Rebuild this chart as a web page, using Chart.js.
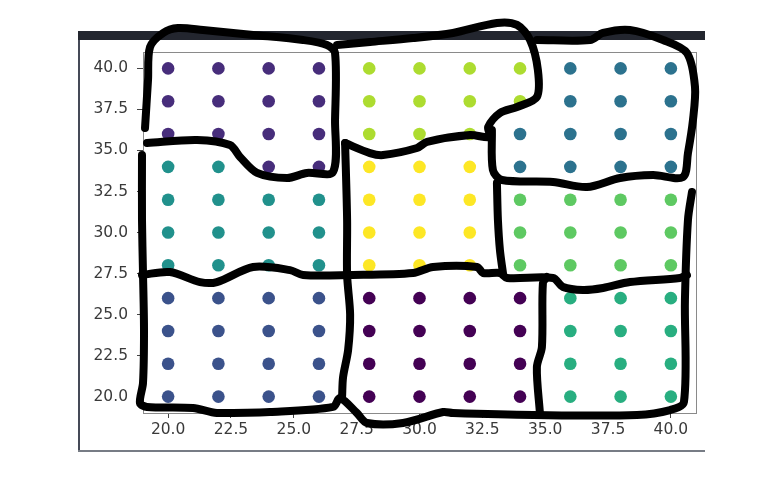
<!DOCTYPE html>
<html>
<head>
<meta charset="utf-8">
<script src="https://cdn.jsdelivr.net/npm/chart.js@4.4.0/dist/chart.umd.min.js"></script>
<style>
  html, body { margin: 0; padding: 0; background: #ffffff; }
  #wrap { position: relative; width: 778px; height: 502px; }
  canvas { display: block; }
</style>
</head>
<body>
<div id="wrap"><canvas id="c" width="778" height="502"></canvas></div>
<script>
// ---- tick labels ----
const xTickValues = [20.0, 22.5, 25.0, 27.5, 30.0, 32.5, 35.0, 37.5, 40.0];
const yTickValues = [20.0, 22.5, 25.0, 27.5, 30.0, 32.5, 35.0, 37.5, 40.0];

// ---- cluster colours (viridis, 9 labels) ----
const clusterColors = ['#440154', '#472d7b', '#3b528b', '#2c728e', '#21918c', '#28ae80', '#5ec962', '#addc30', '#fde725'];

// ---- points per cluster [x, y] ----
const cluster0 = [[28,20],[30,20],[32,20],[34,20],[28,22],[30,22],[32,22],[34,22],[28,24],[30,24],[32,24],[34,24],[28,26],[30,26],[32,26],[34,26]];
const cluster1 = [[24,34],[26,34],[20,36],[22,36],[24,36],[26,36],[20,38],[22,38],[24,38],[26,38],[20,40],[22,40],[24,40],[26,40]];
const cluster2 = [[20,20],[22,20],[24,20],[26,20],[20,22],[22,22],[24,22],[26,22],[20,24],[22,24],[24,24],[26,24],[20,26],[22,26],[24,26],[26,26]];
const cluster3 = [[34,34],[36,34],[38,34],[40,34],[34,36],[36,36],[38,36],[40,36],[36,38],[38,38],[40,38],[36,40],[38,40],[40,40]];
const cluster4 = [[20,28],[22,28],[24,28],[26,28],[20,30],[22,30],[24,30],[26,30],[20,32],[22,32],[24,32],[26,32],[20,34],[22,34]];
const cluster5 = [[36,20],[38,20],[40,20],[36,22],[38,22],[40,22],[36,24],[38,24],[40,24],[36,26],[38,26],[40,26]];
const cluster6 = [[34,28],[36,28],[38,28],[40,28],[34,30],[36,30],[38,30],[40,30],[34,32],[36,32],[38,32],[40,32]];
const cluster7 = [[28,36],[30,36],[32,36],[28,38],[30,38],[32,38],[34,38],[28,40],[30,40],[32,40],[34,40]];
const cluster8 = [[28,28],[30,28],[32,28],[28,30],[30,30],[32,30],[28,32],[30,32],[32,32],[28,34],[30,34],[32,34]];
const clusters = [cluster0, cluster1, cluster2, cluster3, cluster4, cluster5, cluster6, cluster7, cluster8];

// ---- hand-drawn outlines, in data units ----
const strokeTopLeft = [[19.08,36.37],[19.20,39.29],[19.28,41.30],[19.80,42.16],[20.39,42.46],[21.39,42.34],[23.38,42.04],[25.37,41.73],[26.32,41.43],[26.64,40.94],[26.64,36.86],[26.56,33.69],[25.52,33.63],[24.73,33.32],[23.54,33.63],[22.86,34.60],[22.46,35.33],[21.15,35.64],[19.16,35.45]];
const strokeOuter = [[18.96,34.72],[18.96,30.76],[19.00,27.53],[19.04,24.0],[19.00,20.83],[18.88,19.61],[19.16,19.37],[20.99,19.30],[21.94,19.00],[24.05,19.06],[26.56,19.37],[26.84,19.91],[27.51,19.00],[27.91,18.39],[29.34,18.39],[30.94,19.06],[31.33,19.00],[34.52,18.88],[38.65,18.88],[39.97,19.18],[40.52,19.67],[40.56,25.89],[40.68,30.76],[40.84,32.47]];
const strokeMidVertical = [[27.04,35.45],[27.12,30.76],[27.12,27.41],[27.24,25.0],[27.16,22.84],[26.96,21.19],[26.92,19.98]];
const strokeHorizontal = [[18.96,27.41],[20.07,27.59],[21.27,26.98],[21.94,26.98],[23.38,27.90],[24.85,27.71],[25.37,27.41],[27.24,27.41],[29.74,27.53],[30.54,27.90],[32.29,27.90],[32.53,27.53],[33.20,27.53],[33.48,27.23],[35.31,27.23],[35.71,26.68],[36.50,26.50],[37.30,26.62],[38.37,26.98],[40.36,27.23],[40.64,27.41]];
const strokeBottomDivider = [[35.07,27.29],[34.91,26.92],[34.87,23.02],[34.67,21.80],[34.79,19.0]];
const strokeTopMiddle = [[26.72,41.43],[28.03,41.61],[29.74,41.85],[31.33,42.16],[33.08,42.77],[33.88,42.65],[34.40,41.73],[34.71,39.90],[34.67,38.26],[33.88,37.65],[33.20,37.28],[32.73,36.43],[32.80,35.82],[32.01,35.94],[30.30,35.52],[29.90,35.15],[28.55,34.72],[28.03,34.84],[27.04,35.45]];
const strokeTopRight = [[32.88,36.25],[32.92,33.81],[33.28,33.20],[35.31,33.08],[36.66,32.77],[37.98,33.32],[39.29,33.50],[40.48,33.38],[40.68,34.84],[40.88,36.86],[40.96,38.87],[40.64,40.94],[39.69,41.73],[38.37,42.34],[37.30,42.16],[36.78,41.73],[34.67,41.73]];
const strokeMidDivider = [[33.08,33.02],[33.12,30.76],[33.20,28.93],[33.32,27.53]];
const strokes = [strokeTopLeft, strokeOuter, strokeMidVertical, strokeHorizontal, strokeBottomDivider, strokeTopMiddle, strokeTopRight, strokeMidDivider];

const toXY = arr => arr.map(p => ({ x: p[0], y: p[1] }));

const pointSets = clusters.map((pts, i) => ({
  type: 'scatter',
  data: toXY(pts),
  backgroundColor: clusterColors[i],
  borderColor: clusterColors[i],
  borderWidth: 0,
  pointRadius: 6.3,
  pointHoverRadius: 6.3,
  order: 2
}));

const strokeSets = strokes.map(s => ({
  type: 'scatter',
  data: toXY(s),
  showLine: true,
  borderColor: '#000000',
  borderWidth: 8,
  borderCapStyle: 'round',
  borderJoinStyle: 'round',
  tension: 0.3,
  pointRadius: 0,
  pointHoverRadius: 0,
  fill: false,
  clip: false,
  order: 1
}));

const framePlugin = {
  id: 'frame',
  beforeDraw(chart) {
    const ctx = chart.ctx;
    ctx.save();
    ctx.fillStyle = '#ffffff';
    ctx.fillRect(0, 0, chart.width, chart.height);
    // screenshot frame
    ctx.fillStyle = '#23262f';
    ctx.fillRect(78, 31, 627, 9);
    ctx.fillStyle = '#454a57';
    ctx.fillRect(78, 40, 2, 412);
    ctx.fillStyle = '#777c85';
    ctx.fillRect(78, 450, 627, 2);
    ctx.restore();
  },
  beforeDatasetsDraw(chart) {
    const a = chart.chartArea;
    const ctx = chart.ctx;
    ctx.save();
    ctx.strokeStyle = '#8a8a8a';
    ctx.lineWidth = 1;
    ctx.strokeRect(Math.round(a.left) + 0.5, Math.round(a.top) + 0.5, Math.round(a.right - a.left), Math.round(a.bottom - a.top));
    ctx.restore();
  }
};

new Chart(document.getElementById('c'), {
  type: 'scatter',
  data: { datasets: [...strokeSets, ...pointSets] },
  options: {
    responsive: false,
    devicePixelRatio: 1,
    animation: false,
    events: [],
    layout: { padding: { left: 0, top: 52, right: 82, bottom: 59 } },
    plugins: { legend: { display: false }, tooltip: { enabled: false } },
    scales: {
      x: {
        type: 'linear',
        min: 19, max: 41,
        afterFit(s) { s.height = 30; },
        afterBuildTicks(s) { s.ticks = xTickValues.map(v => ({ value: v })); },
        grid: { display: true, drawOnChartArea: false, drawTicks: true, tickLength: 5, tickColor: '#444', tickWidth: 1 },
        border: { display: false },
        ticks: {
          padding: 3,
          maxRotation: 0,
          autoSkip: false,
          color: '#3a3a3a',
          font: { family: 'DejaVu Sans', size: 15.5 },
          callback: v => Number(v).toFixed(1)
        }
      },
      y: {
        type: 'linear',
        min: 19, max: 41,
        afterFit(s) { s.width = 143; },
        afterBuildTicks(s) { s.ticks = yTickValues.map(v => ({ value: v })); },
        grid: { display: true, drawOnChartArea: false, drawTicks: true, tickLength: 6, tickColor: '#444', tickWidth: 1 },
        border: { display: false },
        ticks: {
          padding: 9,
          autoSkip: false,
          color: '#3a3a3a',
          font: { family: 'DejaVu Sans', size: 15.5 },
          callback: v => Number(v).toFixed(1)
        }
      }
    }
  },
  plugins: [framePlugin]
});
</script>
</body>
</html>
